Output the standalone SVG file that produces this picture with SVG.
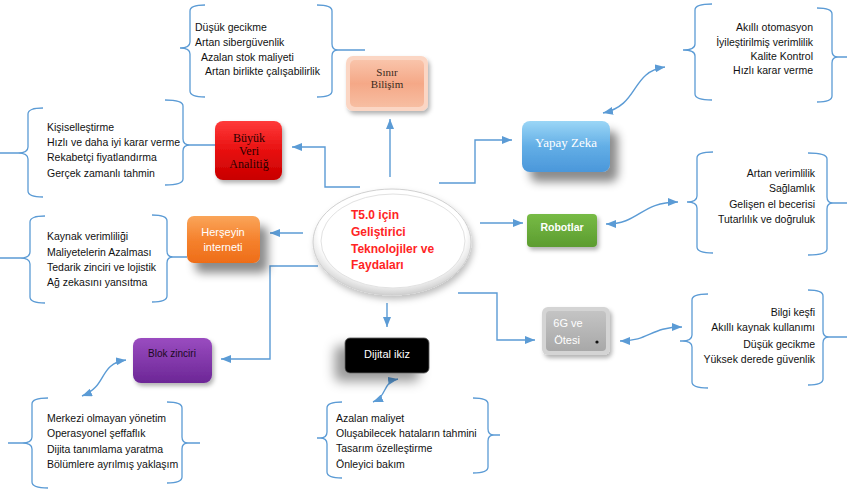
<svg xmlns="http://www.w3.org/2000/svg" width="847" height="494" viewBox="0 0 847 494">
<defs>
<style>
.ln{fill:none;stroke:#5b9bd5;stroke-width:1.4}
.br{fill:none;stroke:#5b9bd5;stroke-width:1.3}
.li{font-family:"Liberation Sans",Arial,sans-serif;font-size:10.5px;fill:#111111}
.r{text-anchor:end}
.ser{font-family:"Liberation Serif","Times New Roman",serif;text-anchor:middle}
.san{font-family:"Liberation Sans",Arial,sans-serif;text-anchor:middle}
</style>
<marker id="ah" viewBox="0 0 10 8" refX="10" refY="4" markerWidth="10" markerHeight="8" markerUnits="userSpaceOnUse" orient="auto-start-reverse"><path d="M0,0 L10,4 L0,8 Z" fill="#5b9bd5"/></marker>
<filter id="sh" x="-40%" y="-40%" width="190%" height="200%"><feDropShadow dx="8" dy="10" stdDeviation="5" flood-color="#000" flood-opacity="0.45"/></filter>
<filter id="shs" x="-30%" y="-30%" width="160%" height="170%"><feDropShadow dx="2" dy="3" stdDeviation="2" flood-color="#000" flood-opacity="0.3"/></filter>
<filter id="shl" x="-50%" y="-40%" width="180%" height="200%"><feDropShadow dx="-10" dy="8" stdDeviation="6" flood-color="#000" flood-opacity="0.4"/></filter>
<filter id="she" x="-20%" y="-20%" width="140%" height="150%"><feDropShadow dx="2" dy="4" stdDeviation="3" flood-color="#000" flood-opacity="0.25"/></filter>
<linearGradient id="gPeach" x1="0" y1="0" x2="0" y2="1"><stop offset="0" stop-color="#f9c4aa"/><stop offset="0.5" stop-color="#f5a887"/><stop offset="1" stop-color="#f7bea2"/></linearGradient>
<linearGradient id="gRed" x1="0" y1="0" x2="0" y2="1"><stop offset="0" stop-color="#ff3b3b"/><stop offset="0.5" stop-color="#e81010"/><stop offset="1" stop-color="#c80000"/></linearGradient>
<linearGradient id="gBlue" x1="0" y1="0" x2="0" y2="1"><stop offset="0" stop-color="#9bd6f6"/><stop offset="0.5" stop-color="#62aee6"/><stop offset="1" stop-color="#4b97da"/></linearGradient>
<linearGradient id="gGreen" x1="0" y1="0" x2="0" y2="1"><stop offset="0" stop-color="#77bb45"/><stop offset="1" stop-color="#5c9c30"/></linearGradient>
<linearGradient id="gGray" x1="0" y1="0" x2="0" y2="1"><stop offset="0" stop-color="#c4c4c4"/><stop offset="1" stop-color="#a8a8a8"/></linearGradient>
<linearGradient id="gOrange" x1="0" y1="0" x2="0" y2="1"><stop offset="0" stop-color="#faa55a"/><stop offset="0.5" stop-color="#f5822e"/><stop offset="1" stop-color="#ee6d18"/></linearGradient>
<linearGradient id="gPurple" x1="0" y1="0" x2="0" y2="1"><stop offset="0" stop-color="#9a4cc0"/><stop offset="1" stop-color="#6c2696"/></linearGradient>
<radialGradient id="gEll" cx="0.5" cy="0.42" r="0.58"><stop offset="0.8" stop-color="#ffffff"/><stop offset="1" stop-color="#cfcfcf"/></radialGradient>
</defs>
<rect width="847" height="494" fill="#ffffff"/>

<g id="braces">
<path class="br" d="M205,5 Q190,5 190,11 L190,42 Q190,48 180,48 Q190,48 190,54 L190,91 Q190,97 205,97"/>
<path class="br" d="M317,5 Q332,5 332,11 L332,44 Q332,50 338,50 L365,50 M338,50 Q332,50 332,56 L332,91 Q332,97 317,97"/>
<path class="br" d="M712,4 Q695,4 695,10 L695,44 Q695,50 683,50 Q695,50 695,56 L695,94 Q695,100 712,100"/>
<path class="br" d="M817,8 Q832,8 832,14 L832,51 Q832,57 838,57 L847,57 M838,57 Q832,57 832,63 L832,96 Q832,102 817,102"/>
<path class="br" d="M43,108 Q28,108 28,114 L28,147 Q28,153 18,153 L0,153 M18,153 Q28,153 28,159 L28,191 Q28,197 43,197"/>
<path class="br" d="M165,100 Q183,100 183,106 L183,139 Q183,145 190,145 L215,145 M190,145 Q183,145 183,151 L183,179 Q183,185 165,185"/>
<path class="br" d="M45,216 Q30,216 30,222 L30,252 Q30,258 20,258 L0,258 M20,258 Q30,258 30,264 L30,297 Q30,303 45,303"/>
<path class="br" d="M152,215 Q167,215 167,221 L167,251 Q167,257 173,257 L187,257 M173,257 Q167,257 167,263 L167,296 Q167,302 152,302"/>
<path class="br" d="M713,152 Q697,152 697,158 L697,196 Q697,202 687,202 Q697,202 697,208 L697,247 Q697,253 713,253"/>
<path class="br" d="M808,153 Q827,153 827,159 L827,197 Q827,203 833,203 L847,203 M833,203 Q827,203 827,209 L827,249 Q827,255 808,255"/>
<path class="br" d="M708,294 Q692,294 692,300 L692,335 Q692,341 682,341 L680,341 M682,341 Q692,341 692,347 L692,382 Q692,388 708,388"/>
<path class="br" d="M808,290 Q823,290 823,296 L823,331 Q823,337 829,337 L847,337 M829,337 Q823,337 823,343 L823,379 Q823,385 808,385"/>
<path class="br" d="M48,398 Q32,398 32,404 L32,437 Q32,443 22,443 L8,443 M22,443 Q32,443 32,449 L32,482 Q32,488 48,488"/>
<path class="br" d="M167,402 Q182,402 182,408 L182,437 Q182,443 188,443 L200,443 M188,443 Q182,443 182,449 L182,477 Q182,483 167,483"/>
<path class="br" d="M342,402 Q327,402 327,408 L327,432 Q327,438 320,438 L317,438 M320,438 Q327,438 327,444 L327,472 Q327,478 342,478"/>
<path class="br" d="M473,398 Q488,398 488,404 L488,429 Q488,435 494,435 L500,435 M494,435 Q488,435 488,441 L488,467 Q488,473 473,473"/>
</g>

<g id="connectors">
<path class="ln" marker-end="url(#ah)" d="M390,177 L390,119"/>
<path class="ln" marker-end="url(#ah)" d="M360,187 L325,187 L325,147 L292,147"/>
<path class="ln" marker-end="url(#ah)" d="M439,183 L475,183 L475,140 L512,140"/>
<path class="ln" marker-end="url(#ah)" d="M480,223 L523,223"/>
<path class="ln" marker-end="url(#ah)" d="M458,293 L497,293 L497,340 L535,340"/>
<path class="ln" marker-end="url(#ah)" d="M387,303 L387,327"/>
<path class="ln" marker-end="url(#ah)" d="M303,233 L270,233"/>
<path class="ln" marker-end="url(#ah)" d="M318,266 L270,266 L270,359 L221,359"/>
<path class="ln" marker-start="url(#ah)" marker-end="url(#ah)" d="M603,113 C640,105 630,72 665,67"/>
<path class="ln" marker-start="url(#ah)" marker-end="url(#ah)" d="M606,224 C640,224 640,202 678,202"/>
<path class="ln" marker-start="url(#ah)" marker-end="url(#ah)" d="M620,341 C650,341 650,327 682,327"/>
<path class="ln" marker-start="url(#ah)" marker-end="url(#ah)" d="M82,396 C108,386 98,364 126,360"/>
<path class="ln" marker-start="url(#ah)" marker-end="url(#ah)" d="M373,402 C388,396 382,382 398,379"/>
</g>

<g id="center">
<ellipse cx="392" cy="242" rx="79" ry="53" fill="url(#gEll)" stroke="#cfcfcf" stroke-width="1" filter="url(#she)"/>
<ellipse cx="393" cy="241" rx="72" ry="47" fill="#ffffff" stroke="#e2e2e2" stroke-width="1"/>
<g font-family="Liberation Sans,Arial,sans-serif" font-size="12" font-weight="bold" fill="#ff2424">
<text x="351" y="219">T5.0 için</text>
<text x="351" y="236">Geliştirici</text>
<text x="351" y="253">Teknolojiler ve</text>
<text x="351" y="269">Faydaları</text>
</g>
</g>

<g id="sinir">
<rect x="346" y="56" width="82" height="55" rx="7" fill="#fbd6c4" filter="url(#shs)"/>
<rect x="350" y="60" width="74" height="47" rx="5" fill="url(#gPeach)"/>
<text class="ser" x="387" y="76" font-size="11" fill="#3a2a20">Sınır</text>
<text class="ser" x="387" y="88" font-size="11" fill="#3a2a20">Bilişim</text>
</g>

<g id="buyuk">
<rect x="215" y="121" width="67" height="59" rx="8" fill="url(#gRed)" filter="url(#shs)"/>
<text class="ser" x="249" y="142" font-size="12" fill="#2a0000">Büyük</text>
<text class="ser" x="249" y="155" font-size="12" fill="#2a0000">Veri</text>
<text class="ser" x="249" y="168" font-size="12" fill="#2a0000">Analitiğ</text>
</g>

<g id="yapay">
<rect x="522" y="121" width="88" height="51" rx="8" fill="url(#gBlue)" filter="url(#sh)"/>
<text class="ser" x="566" y="147" font-size="13" fill="#ffffff">Yapay Zeka</text>
</g>

<g id="robotlar">
<rect x="527" y="214" width="70" height="33" rx="4" fill="url(#gGreen)" filter="url(#shs)"/>
<text class="san" x="562" y="231" font-size="10.5" font-weight="bold" fill="#ffffff">Robotlar</text>
</g>

<g id="g6">
<rect x="542" y="307" width="68" height="48" rx="6" fill="#d4d4d4" filter="url(#shs)"/>
<rect x="546" y="311" width="60" height="40" rx="4" fill="url(#gGray)"/>
<text class="san" x="568" y="327" font-size="11" fill="#ffffff">6G ve</text>
<text class="san" x="567" y="344" font-size="11" fill="#ffffff">Ötesi</text>
<circle cx="597" cy="342" r="1.6" fill="#111"/>
</g>

<g id="dijital">
<rect x="345" y="338" width="84" height="35" rx="5" fill="#050505" stroke="#555" stroke-width="0.8" filter="url(#shl)"/>
<text class="san" x="387" y="358" font-size="11" fill="#ffffff">Dijital ikiz</text>
</g>

<g id="hersey">
<rect x="187" y="216" width="73" height="47" rx="7" fill="url(#gOrange)" filter="url(#sh)"/>
<text class="san" x="223" y="236" font-size="11" fill="#ffffff">Herşeyin</text>
<text class="san" x="223" y="251" font-size="11" fill="#ffffff">interneti</text>
</g>

<g id="blok">
<rect x="133" y="338" width="79" height="45" rx="8" fill="url(#gPurple)" filter="url(#shs)"/>
<text class="san" x="172" y="357" font-size="10" fill="#1a0a20">Blok zinciri</text>
</g>

<g id="lists">
<text class="li" x="195" y="31">Düşük gecikme</text>
<text class="li" x="195" y="46">Artan sibergüvenlik</text>
<text class="li" x="201" y="61">Azalan stok maliyeti</text>
<text class="li" x="205" y="75">Artan birlikte çalışabilirlik</text>

<text class="li r" x="813" y="31">Akıllı otomasyon</text>
<text class="li r" x="813" y="46">İyileştirilmiş verimlilik</text>
<text class="li r" x="813" y="60">Kalite Kontrol</text>
<text class="li r" x="813" y="74">Hızlı karar verme</text>

<text class="li" x="47" y="131">Kişiselleştirme</text>
<text class="li" x="47" y="146">Hızlı ve daha iyi karar verme</text>
<text class="li" x="47" y="161">Rekabetçi fiyatlandırma</text>
<text class="li" x="47" y="177">Gerçek zamanlı tahmin</text>

<text class="li" x="47" y="240">Kaynak verimliliği</text>
<text class="li" x="47" y="256">Maliyetelerin Azalması</text>
<text class="li" x="47" y="271">Tedarik zinciri ve lojistik</text>
<text class="li" x="47" y="286">Ağ zekasını yansıtma</text>

<text class="li r" x="815" y="177">Artan verimlilik</text>
<text class="li r" x="815" y="192">Sağlamlık</text>
<text class="li r" x="815" y="208">Gelişen el becerisi</text>
<text class="li r" x="815" y="223">Tutarlılık ve doğruluk</text>

<text class="li r" x="815" y="316">Bilgi keşfi</text>
<text class="li r" x="815" y="331">Akıllı kaynak kullanımı</text>
<text class="li r" x="815" y="348">Düşük gecikme</text>
<text class="li r" x="815" y="363">Yüksek derede güvenlik</text>

<text class="li" x="47" y="422">Merkezi olmayan yönetim</text>
<text class="li" x="47" y="437">Operasyonel şeffaflık</text>
<text class="li" x="47" y="453">Dijita tanımlama yaratma</text>
<text class="li" x="47" y="468">Bölümlere ayrılmış yaklaşım</text>

<text class="li" x="336" y="422">Azalan maliyet</text>
<text class="li" x="336" y="437">Oluşabilecek hataların tahmini</text>
<text class="li" x="336" y="452">Tasarım özelleştirme</text>
<text class="li" x="336" y="468">Önleyici bakım</text>
</g>
</svg>
